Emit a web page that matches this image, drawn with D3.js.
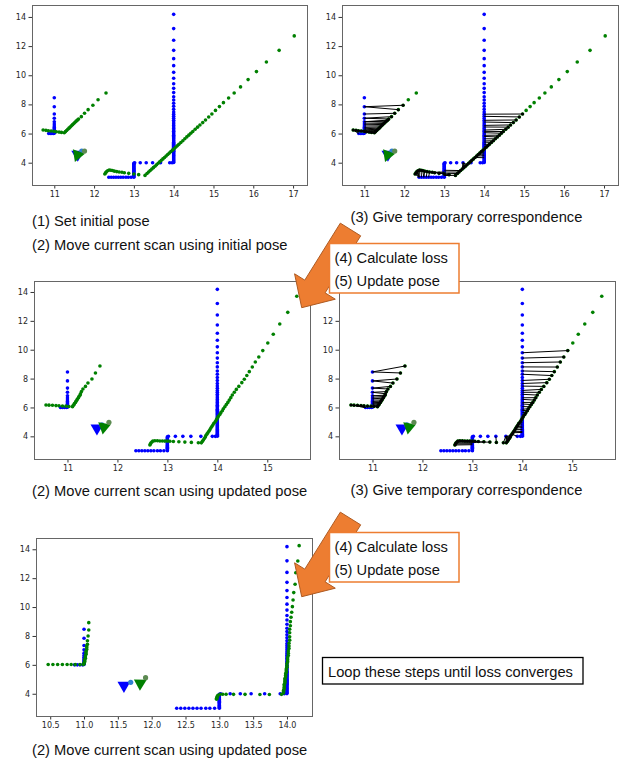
<!DOCTYPE html>
<html lang="en">
<head>
<meta charset="UTF-8">
<title>Scan matching steps</title>
<script src="https://d3js.org/d3.v7.min.js"></script>
<style>
  body { margin: 0; background: #fff; }
  svg { display: block; }
  .tick text { font-family: "DejaVu Sans", sans-serif; font-size: 8px; fill: #262626; }
  .tick line { stroke: #333; }
  .caption { font-family: "Liberation Sans", Arial, sans-serif; font-size: 14.7px; fill: #111; }
</style>
</head>
<body>
<div id="chart"></div>
<script>
  // reference scan (blue), same in every panel
  const refScan = [
    [11,8.46],[11,7.84],[11,7.34],[11,7.05],[11,6.81],[11,6.65],[11,6.52],[11,6.42],[11,6.33],[11,6.26],[11,6.19],[11,6.13],[11,6.07],[11,6.02],
    [10.86,6],[10.9,6],[10.94,6],[10.98,6],
    [12.37,3],[12.43,3],[12.49,3],[12.55,3],[12.61,3],[12.67,3],[12.73,3],[12.8,3],[12.86,3],[12.93,3],[13,3],
    [13,3.06],[13,3.12],[13,3.18],[13,3.24],[13,3.3],[13,3.36],[13,3.42],[13,3.48],[13,3.54],[13,3.6],[13,3.66],[13,3.72],[13,3.78],[13,3.84],[13,3.9],[13,3.96],
    [13.02,4],[13.16,4],[13.31,4],[13.47,4],[13.67,4],[13.9,4],[13.96,4],
    [14,4.01],[14,4.07],[14,4.14],[14,4.2],[14,4.27],[14,4.34],[14,4.4],[14,4.47],[14,4.53],[14,4.6],[14,4.66],[14,4.73],[14,4.79],[14,4.86],
    [14,4.93],[14,4.99],[14,5.06],[14,5.13],[14,5.2],[14,5.27],[14,5.34],[14,5.41],[14,5.49],[14,5.56],[14,5.64],[14,5.72],[14,5.8],[14,5.88],
    [14,5.97],[14,6.06],[14,6.15],[14,6.24],[14,6.35],[14,6.45],[14,6.56],[14,6.67],[14,6.79],[14,6.91],[14,7.05],[14,7.18],[14,7.33],[14,7.48],
    [14,7.66],[14,7.87],[14,8.08],[14,8.3],[14,8.53],[14,8.81],[14,9.1],[14,9.42],[14,9.79],[14,10.2],[14,10.66],[14,11.14],[14,11.71],[14,12.4],
    [14,13.2],[14,14.18]
  ];

  // current scan (green) moved with the initial pose
  const scanInitial = [
    [10.72,6.24],[10.79,6.22],[10.85,6.19],[10.92,6.17],[10.99,6.15],[11.05,6.12],[11.12,6.1],[11.18,6.08],[11.25,6.06],
    [11.28,6.13],[11.31,6.21],[11.34,6.29],[11.37,6.37],[11.4,6.45],[11.43,6.53],[11.46,6.61],[11.49,6.69],[11.52,6.77],[11.55,6.85],
    [11.58,6.92],[11.61,7],[11.68,7.16],[11.76,7.39],[11.85,7.64],[11.97,7.94],[12.1,8.32],[12.3,8.78],
    [12.27,3.22],[12.29,3.3],[12.31,3.38],[12.34,3.45],[12.38,3.5],[12.42,3.48],[12.46,3.46],[12.51,3.42],[12.57,3.39],[12.63,3.36],
    [12.7,3.34],[12.76,3.31],[12.87,3.27],[13,3.22],[13.12,3.18],
    [13.28,3.13],[13.33,3.26],[13.37,3.36],[13.41,3.46],[13.45,3.56],[13.49,3.66],[13.53,3.76],[13.57,3.86],[13.61,3.96],[13.65,4.06],
    [13.69,4.16],[13.73,4.26],[13.77,4.36],[13.81,4.46],[13.85,4.56],[13.89,4.66],[13.93,4.76],[13.97,4.86],[14.01,4.96],[14.05,5.06],
    [14.09,5.16],[14.13,5.26],[14.18,5.39],[14.23,5.51],[14.28,5.64],[14.33,5.77],[14.38,5.89],[14.43,6.02],[14.48,6.14],[14.54,6.29],
    [14.6,6.44],[14.66,6.59],[14.73,6.75],[14.8,6.93],[14.88,7.14],[14.96,7.34],[15.05,7.59],[15.15,7.85],[15.25,8.12],[15.38,8.44],
    [15.52,8.78],[15.68,9.2],[15.87,9.7],[16.08,10.25],[16.33,10.91],[16.65,11.71],[17.03,12.7]
  ];

  // current scan after the first update
  const scanUpdated = [
    [10.57,6.17],[10.63,6.16],[10.7,6.15],[10.77,6.13],[10.83,6.12],[10.9,6.1],[10.97,6.09],[11.03,6.07],[11.1,6.05],
    [11.11,6.12],[11.13,6.19],[11.14,6.27],[11.16,6.35],[11.17,6.43],[11.19,6.51],[11.2,6.59],[11.22,6.67],[11.23,6.76],[11.25,6.85],
    [11.26,6.95],[11.28,7.1],[11.31,7.28],[11.36,7.46],[11.41,7.69],[11.49,7.97],[11.56,8.39],[11.65,8.87],
    [12.65,3.4],[12.66,3.47],[12.67,3.54],[12.69,3.61],[12.71,3.67],[12.75,3.69],[12.8,3.69],[12.85,3.68],[12.9,3.68],[12.95,3.67],
    [13,3.67],[13.05,3.66],[13.12,3.64],[13.23,3.62],[13.35,3.6],[13.48,3.58],[13.62,3.56],
    [13.68,3.55],[13.7,3.65],[13.72,3.75],[13.74,3.85],[13.76,3.95],[13.77,4.05],[13.79,4.15],[13.81,4.25],[13.83,4.35],[13.85,4.46],
    [13.87,4.57],[13.89,4.68],[13.91,4.79],[13.93,4.9],[13.96,5.02],[13.98,5.14],[14,5.26],[14.02,5.38],[14.05,5.51],[14.07,5.64],
    [14.1,5.77],[14.12,5.91],[14.15,6.05],[14.18,6.2],[14.21,6.35],[14.24,6.51],[14.27,6.68],[14.3,6.86],[14.34,7.05],[14.38,7.25],
    [14.43,7.46],[14.49,7.72],[14.54,7.95],[14.59,8.21],[14.64,8.48],[14.7,8.8],[14.76,9.15],[14.83,9.5],[14.91,9.94],[15.01,10.47],
    [15.12,11.07],[15.25,11.78],[15.41,12.59],[15.59,13.7]
  ];

  // current scan after the loop has converged
  const scanFinal = [
    [10.47,6.02],[10.54,6.02],[10.61,6.02],[10.68,6.02],[10.75,6.02],[10.81,6.02],[10.87,6.02],[10.94,6.02],[10.99,6.02],
    [11,6.07],[11,6.14],[11.01,6.21],[11.01,6.29],[11.01,6.37],[11.02,6.45],[11.02,6.54],[11.02,6.63],[11.03,6.73],[11.03,6.83],
    [11.03,6.94],[11.04,7.06],[11.04,7.19],[11.04,7.3],[11.05,7.42],[11.05,7.67],[11.06,8],[11.07,8.41],[11.07,8.92],
    [12.96,3.62],[12.96,3.69],[12.97,3.76],[12.97,3.83],[12.98,3.9],[13.01,3.97],[13.05,3.97],[13.1,3.97],[13.21,3.96],[13.38,3.96],
    [13.6,3.95],[13.74,3.95],
    [13.92,3.96],[13.95,4.05],[13.95,4.15],[13.95,4.25],[13.96,4.35],[13.96,4.45],[13.96,4.55],[13.96,4.65],[13.97,4.75],[13.97,4.85],
    [13.97,4.95],[13.97,5.05],[13.98,5.16],[13.98,5.27],[13.98,5.38],[13.99,5.49],[13.99,5.6],[13.99,5.72],[14,5.84],[14,5.96],
    [14,6.09],[14.01,6.22],[14.01,6.36],[14.01,6.5],[14.02,6.65],[14.02,6.8],[14.02,6.96],[14.03,7.13],[14.03,7.31],[14.03,7.5],
    [14.04,7.71],[14.04,7.95],[14.04,8.22],[14.04,8.46],[14.05,8.71],[14.05,8.99],[14.06,9.29],[14.07,9.64],[14.08,10.03],[14.09,10.49],
    [14.1,11],[14.12,11.58],[14.13,12.38],[14.16,13.19],[14.18,14.25]
  ];

  // poses: [x, y, heading dot x, heading dot y, turn in degrees]
  const refPose = [11.59, 4.57, 11.69, 4.79, 0];
  const poseInitial = [11.585, 4.53, 11.76, 4.8, 21];
  const poseUpdated = [11.73, 4.64, 11.83, 4.97, 10];
  const poseFinal = [11.83, 4.72, 11.91, 5.11, 2];

  const xTicksWide = [11, 12, 13, 14, 15, 16, 17];
  const xTicksMid = [11, 12, 13, 14, 15];
  const xTicksFine = [10.5, 11, 11.5, 12, 12.5, 13, 13.5, 14];
  const yTicks = [4, 6, 8, 10, 12, 14];
  const yTicksCut = [4, 6, 8, 10, 12];

  const captions = [
    ["(1) Set initial pose", 32, 226],
    ["(2) Move current scan using initial pose", 32, 249.5],
    ["(3) Give temporary correspondence", 350.5, 222],
    ["(2) Move current scan using updated pose", 32, 495.5],
    ["(3) Give temporary correspondence", 350.5, 494.5],
    ["(2) Move current scan using updated pose", 32, 755]
  ];
  const stepLines = ["(4) Calculate loss", "(5) Update pose"];
  const loopText = "Loop these steps until loss converges";

  const W = 624, H = 761;
  const svg = d3.select("#chart").append("svg")
    .attr("width", W).attr("height", H);
  svg.append("rect").attr("width", W).attr("height", H).attr("fill", "#fff");

  const panels = [
    {box: [32, 5, 307, 185], xd: [10.44, 17.35], yd: [2.47, 14.82], xt: xTicksWide, yt: yTicks, fmt: d3.format("d"), scan: scanInitial, pose: poseInitial, links: false},
    {box: [342, 5, 618, 185], xd: [10.44, 17.35], yd: [2.47, 14.82], xt: xTicksWide, yt: yTicks, fmt: d3.format("d"), scan: scanInitial, pose: poseInitial, links: true},
    {box: [34, 281, 310, 459], xd: [10.33, 15.855], yd: [2.43, 14.76], xt: xTicksMid, yt: yTicks, fmt: d3.format("d"), scan: scanUpdated, pose: poseUpdated, links: false},
    {box: [339, 281, 615, 459], xd: [10.33, 15.855], yd: [2.43, 14.76], xt: xTicksMid, yt: yTicksCut, fmt: d3.format("d"), scan: scanUpdated, pose: poseUpdated, links: true},
    {box: [36, 538, 312, 716], xd: [10.29, 14.37], yd: [2.46, 14.78], xt: xTicksFine, yt: yTicks, fmt: d3.format(".1f"), scan: scanFinal, pose: poseFinal, links: false}
  ];

  const tri = d3.symbol().type(d3.symbolTriangle).size(72);

  panels.forEach((p, i) => {
    const [l, t, r, b] = p.box;
    const x = d3.scaleLinear().domain(p.xd).range([l, r]);
    const y = d3.scaleLinear().domain(p.yd).range([b, t]);
    const g = svg.append("g");

    g.append("clipPath").attr("id", "clip" + i)
      .append("rect").attr("x", l).attr("y", t).attr("width", r - l).attr("height", b - t);

    // axes (matplotlib look: outward ticks, no domain line)
    g.append("g")
      .attr("transform", `translate(0,${b})`)
      .call(d3.axisBottom(x).tickValues(p.xt).tickSize(3.5).tickPadding(3).tickFormat(p.fmt))
      .call(a => a.select(".domain").remove());
    g.append("g")
      .attr("transform", `translate(${l},0)`)
      .call(d3.axisLeft(y).tickValues(p.yt).tickSize(3.5).tickPadding(2.5).tickFormat(d3.format("d")))
      .call(a => a.select(".domain").remove());

    const plot = g.append("g").attr("clip-path", `url(#clip${i})`);

    plot.append("g").selectAll("circle")
      .data(refScan).join("circle")
      .attr("cx", d => x(d[0])).attr("cy", d => y(d[1]))
      .attr("r", 1.8).attr("fill", "#0000ff");

    plot.append("g").selectAll("circle")
      .data(p.scan).join("circle")
      .attr("cx", d => x(d[0])).attr("cy", d => y(d[1]))
      .attr("r", 1.8).attr("fill", "#008000");

    if (p.links) {
      // nearest reference point for each scan point, kept when closer than 1.0
      const pairs = p.scan.map(c => {
        let best = null, bd = Infinity;
        refScan.forEach(q => {
          const dd = Math.hypot(c[0] - q[0], c[1] - q[1]);
          if (dd < bd) { bd = dd; best = q; }
        });
        return {c: c, q: best, d: bd};
      }).filter(e => e.d < 1.0);

      plot.append("g").selectAll("line")
        .data(pairs).join("line")
        .attr("x1", e => x(e.c[0])).attr("y1", e => y(e.c[1]))
        .attr("x2", e => x(e.q[0])).attr("y2", e => y(e.q[1]))
        .attr("stroke", "#000").attr("stroke-width", 1);
      plot.append("g").selectAll("circle")
        .data(pairs).join("circle")
        .attr("cx", e => x(e.c[0])).attr("cy", e => y(e.c[1]))
        .attr("r", 1.5).attr("fill", "#000");
    }

    // poses
    plot.append("path").attr("d", tri())
      .attr("transform", `translate(${x(refPose[0])},${y(refPose[1])}) rotate(${180 + refPose[4]})`)
      .attr("fill", "#0000ff");
    plot.append("circle").attr("cx", x(refPose[2])).attr("cy", y(refPose[3]))
      .attr("r", 2.6).attr("fill", "#2f7fd0");
    plot.append("path").attr("d", tri())
      .attr("transform", `translate(${x(p.pose[0])},${y(p.pose[1])}) rotate(${180 + p.pose[4]})`)
      .attr("fill", "#008000");
    plot.append("circle").attr("cx", x(p.pose[2])).attr("cy", y(p.pose[3]))
      .attr("r", 2.6).attr("fill", "#5d8a52");

    g.append("rect")
      .attr("x", l + 0.5).attr("y", t + 0.5)
      .attr("width", r - l).attr("height", b - t)
      .attr("fill", "none").attr("stroke", "#666").attr("stroke-width", 1);
  });

  // captions
  svg.append("g").selectAll("text")
    .data(captions).join("text")
    .attr("class", "caption")
    .attr("x", d => d[1]).attr("y", d => d[2])
    .text(d => d[0]);

  // orange block arrows
  function arrowPoints(tail, tip, shaftW, headW, headL) {
    const dx = tip[0] - tail[0], dy = tip[1] - tail[1], L = Math.hypot(dx, dy);
    const ux = dx / L, uy = dy / L, px = -uy, py = ux;
    const hx = tip[0] - ux * headL, hy = tip[1] - uy * headL;
    return [
      [tail[0] + px * shaftW, tail[1] + py * shaftW],
      [hx + px * shaftW, hy + py * shaftW],
      [hx + px * headW, hy + py * headW],
      tip,
      [hx - px * headW, hy - py * headW],
      [hx - px * shaftW, hy - py * shaftW],
      [tail[0] - px * shaftW, tail[1] - py * shaftW]
    ];
  }

  [0, 289].forEach(off => {
    svg.append("polygon")
      .attr("points", arrowPoints([350.5, 229.5 + off], [301.7, 307.7 + off], 12, 24, 25).join(" "))
      .attr("fill", "#ed7d31").attr("stroke", "#ae5a21").attr("stroke-width", 1);

    svg.append("rect")
      .attr("x", 329.5).attr("y", 243.5 + off)
      .attr("width", 129.5).attr("height", 49.5)
      .attr("fill", "#fff").attr("stroke", "#ed7d31").attr("stroke-width", 1.5);

    svg.append("g").selectAll("text")
      .data(stepLines).join("text")
      .attr("class", "caption")
      .attr("x", 334.5).attr("y", (d, k) => 262.5 + off + k * 23)
      .text(d => d);
  });

  // loop note
  svg.append("rect")
    .attr("x", 322.5).attr("y", 657.5)
    .attr("width", 260.5).attr("height", 26.5)
    .attr("fill", "#fff").attr("stroke", "#000").attr("stroke-width", 1.3);
  svg.append("text")
    .attr("class", "caption")
    .attr("x", 328).attr("y", 676.5)
    .text(loopText);
</script>
</body>
</html>
